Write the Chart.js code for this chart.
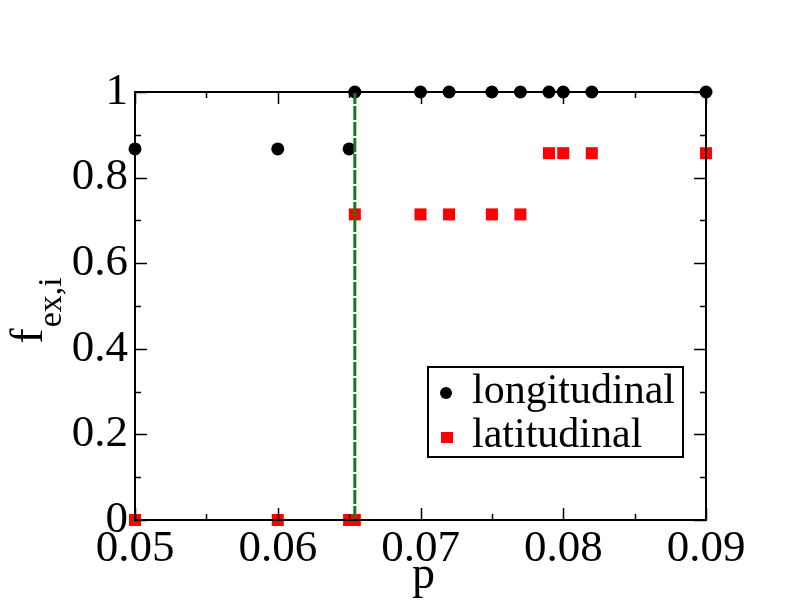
<!DOCTYPE html>
<html>
<head>
<meta charset="utf-8">
<script src="https://cdn.jsdelivr.net/npm/chart.js@4"></script>
<style>
  html, body { margin: 0; padding: 0; background: #fff; }
  #wrap { width: 792px; height: 612px; }
</style>
</head>
<body>
<div id="wrap"><canvas id="c" width="792" height="612"></canvas></div>
<script>
// data
const longX = [0.05, 0.06, 0.065, 0.0654, 0.07, 0.072, 0.075, 0.077, 0.079, 0.08, 0.082, 0.09];
const longY = [0.867, 0.867, 0.867, 1, 1, 1, 1, 1, 1, 1, 1, 1];
const latX = [0.05, 0.06, 0.065, 0.0654, 0.0654, 0.07, 0.072, 0.075, 0.077, 0.079, 0.08, 0.082, 0.09];
const latY = [0, 0, 0, 0, 0.714, 0.714, 0.714, 0.714, 0.714, 0.857, 0.857, 0.857, 0.857];
const thresholdX = [0.0654, 0.0654];
const thresholdY = [0, 1];
const xTicks = [0.05, 0.06, 0.07, 0.08, 0.09];
const yTicks = [0, 0.2, 0.4, 0.6, 0.8, 1];
const legendLabels = ['longitudinal', 'latitudinal'];

const FONT = '"Liberation Serif", "DejaVu Serif", serif';

const toPts = (xs, ys) => xs.map((x, i) => ({ x: x, y: ys[i] }));

// inward ticks, frame, axis titles and legend box
const framePlugin = {
    id: 'frame',
    afterDraw(chart) {
        const ctx = chart.ctx;
        const a = chart.chartArea;
        const xs = chart.scales.x, ys = chart.scales.y;
        ctx.save();
        ctx.strokeStyle = '#000';
        ctx.lineWidth = 2;
        ctx.strokeRect(a.left, a.top, a.right - a.left, a.bottom - a.top);

        ctx.lineWidth = 1.5;
        for (let v = 0.05; v <= 0.09001; v += 0.005) {
            const px = Math.round(xs.getPixelForValue(v)) + 0.5;
            const major = Math.abs(v * 100 - Math.round(v * 100)) < 1e-6;
            const len = major ? 12 : 6;
            ctx.beginPath();
            ctx.moveTo(px, a.bottom); ctx.lineTo(px, a.bottom - len);
            ctx.moveTo(px, a.top); ctx.lineTo(px, a.top + len);
            ctx.stroke();
        }
        for (let v = 0; v <= 1.0001; v += 0.1) {
            const py = Math.round(ys.getPixelForValue(v)) + 0.5;
            const major = Math.abs(v * 5 - Math.round(v * 5)) < 1e-6;
            const len = major ? 12 : 6;
            ctx.beginPath();
            ctx.moveTo(a.left, py); ctx.lineTo(a.left + len, py);
            ctx.moveTo(a.right, py); ctx.lineTo(a.right - len, py);
            ctx.stroke();
        }

        // axis titles
        ctx.fillStyle = '#000';
        ctx.font = '46px ' + FONT;
        ctx.textAlign = 'center';
        ctx.textBaseline = 'alphabetic';
        ctx.fillText('p', (a.left + a.right) / 2 + 3, 588);

        ctx.save();
        ctx.translate(42, 311);
        ctx.rotate(-Math.PI / 2);
        ctx.textAlign = 'left';
        ctx.font = '46px ' + FONT;
        const fw = ctx.measureText('f').width;
        ctx.font = '34px ' + FONT;
        const sw = ctx.measureText('ex,i').width;
        const start = -(fw + sw) / 2;
        ctx.font = '46px ' + FONT;
        ctx.fillText('f', start, 0);
        ctx.font = '34px ' + FONT;
        ctx.fillText('ex,i', start + fw + 1, 19);
        ctx.restore();

        // legend
        ctx.lineWidth = 2;
        ctx.strokeRect(428, 367, 255, 90);
        ctx.font = '42px ' + FONT;
        ctx.textAlign = 'left';
        ctx.textBaseline = 'alphabetic';
        ctx.fillStyle = '#000';
        ctx.beginPath();
        ctx.arc(446, 393, 6, 0, Math.PI * 2);
        ctx.fill();
        ctx.fillText(legendLabels[0], 472, 403);
        ctx.fillStyle = '#ff0000';
        ctx.fillRect(441, 432, 12, 11);
        ctx.fillStyle = '#000';
        ctx.fillText(legendLabels[1], 472, 447);
        ctx.restore();
    }
};

new Chart(document.getElementById('c'), {
    type: 'scatter',
    data: {
        datasets: [
            {
                label: 'threshold',
                data: toPts(thresholdX, thresholdY),
                showLine: true,
                borderColor: '#1a7a1a',
                borderWidth: 3,
                borderDash: [14, 2],
                pointRadius: 0,
                clip: false,
            },
            {
                label: legendLabels[0],
                data: toPts(longX, longY),
                pointStyle: 'circle',
                pointRadius: 6.5,
                backgroundColor: '#000',
                borderWidth: 0,
                clip: false,
            },
            {
                label: legendLabels[1],
                data: toPts(latX, latY),
                pointStyle: 'rect',
                pointRadius: 8.5,
                backgroundColor: '#ff0000',
                borderWidth: 0,
                clip: false,
            },
        ],
    },
    options: {
        responsive: false,
        animation: false,
        events: [],
        layout: { padding: { top: 92, right: 86, left: 0, bottom: 0 } },
        plugins: {
            legend: { display: false },
            tooltip: { enabled: false },
        },
        scales: {
            x: {
                type: 'linear',
                min: 0.05,
                max: 0.09,
                afterFit: (s) => { s.height = 92; },
                afterBuildTicks: (s) => { s.ticks = xTicks.map(v => ({ value: v })); },
                grid: { display: false, drawTicks: false },
                border: { display: false },
                ticks: {
                    color: '#000',
                    padding: 2,
                    font: { family: FONT, size: 45 },
                    callback: (v) => v.toFixed(2),
                },
            },
            y: {
                type: 'linear',
                min: 0,
                max: 1,
                afterFit: (s) => { s.width = 135; },
                afterBuildTicks: (s) => { s.ticks = yTicks.map(v => ({ value: v })); },
                grid: { display: false, drawTicks: false },
                border: { display: false },
                ticks: {
                    color: '#000',
                    padding: 7,
                    font: { family: FONT, size: 45 },
                    callback: (v) => (v === 0 || v === 1) ? String(v) : v.toFixed(1),
                },
            },
        },
    },
    plugins: [framePlugin],
});
</script>
</body>
</html>
